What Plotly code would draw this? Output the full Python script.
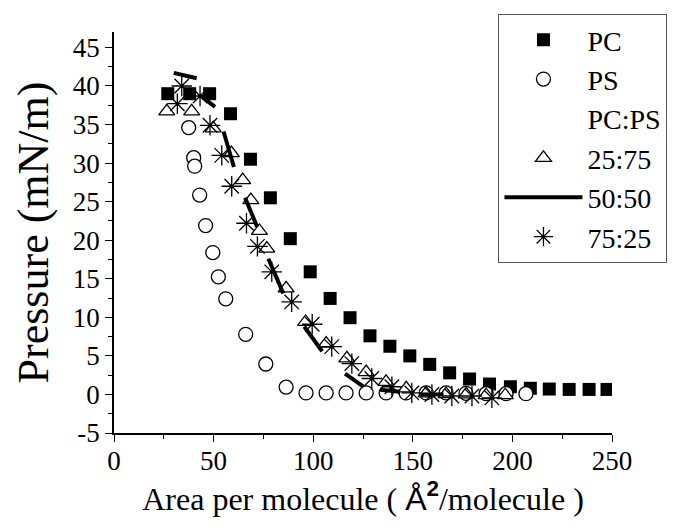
import plotly.graph_objects as go

# ---- data ----
pc_x = [27, 38, 48, 58.5, 68.5, 78.5, 88.5, 98.5, 108.5, 118.5, 128.5, 138.5, 148.5,
        158.5, 168.5, 178.5, 188.5, 199, 209, 218.5, 228.5, 238.5, 247.5]
pc_y = [39.0, 39.0, 39.0, 36.4, 30.5, 25.5, 20.2, 15.9, 12.45, 9.95, 7.6, 6.25, 5.0,
        3.9, 2.8, 2.0, 1.35, 1.0, 0.8, 0.7, 0.65, 0.65, 0.65]

ps_x = [37.5, 40, 40.5, 43, 46, 49.6, 52.4, 56.1, 66.1, 76.2, 86.4, 96.4, 106.5, 116.5,
        126.6, 136.6, 146.6, 156.7, 166.7, 176.7, 186.8, 196.8, 206.8]
ps_y = [34.6, 30.7, 29.6, 25.85, 21.9, 18.4, 15.25, 12.4, 7.8, 3.95, 0.95, 0.2, 0.2, 0.2,
        0.2, 0.2, 0.2, 0.2, 0.2, 0.15, 0.1, 0.1, 0.1]

r25_x = [26.5, 39, 49.8, 58.9, 64.6, 68.7, 73.0, 76.7, 86.4, 96.2, 106.5, 116.9, 126.6,
         136.6, 146.7, 156.7, 166.7, 176.8, 186.8, 196.4]
r25_y = [36.7, 36.7, 34.5, 31.3, 27.8, 25.2, 21.2, 18.9, 13.75, 9.4, 6.6, 4.67, 2.9,
         1.63, 0.78, 0.13, 0.05, 0.0, -0.1, -0.1]

# 50:50 is drawn as a thick broken line (visible segments, gaps as None)
r50_x = [30, 41.5, None, 43.2, 50.7, None, 55.0, 60.2, None, 65.8, 71.9, None,
         77.5, 85.0, None, 95.5, 104.5, None, 116.0, 125.2, None, 133.6, 143.6, None,
         153.7, 165.4]
r50_y = [41.7, 41.0, None, 38.8, 37.3, None, 34.1, 29.5, None, 25.5, 21.7, None,
         17.6, 13.1, None, 8.8, 5.6, None, 2.7, 1.0, None, 0.6, 0.35, None,
         0.0, 0.0]

r75_x = [31.8, 34, 43.2, 48.2, 54.1, 59.1, 66.5, 72.0, 79.2, 89.2, 99.5, 109.3, 119.4,
         129.4, 139.5, 149.5, 159.6, 169.6, 179.7, 189.7]
r75_y = [37.7, 40.0, 38.7, 34.9, 31.0, 27.0, 22.2, 19.2, 15.9, 12.0, 9.1, 6.2, 4.0,
         2.07, 1.0, 0.2, 0.0, -0.2, -0.2, -0.45]

x_ticks = [0, 50, 100, 150, 200, 250]
y_ticks = [-5, 0, 5, 10, 15, 20, 25, 30, 35, 40, 45]
y_tick_text = ["-5", "0", "5", "10", "15", "20", "25", "30", "35", "40", "45"]

SERIF = "Liberation Serif"

fig = go.Figure()
fig.add_trace(go.Scatter(x=pc_x, y=pc_y, mode="markers", name="PC",
                         marker=dict(symbol="square", size=13, color="black",
                                     line=dict(width=0))))
fig.add_trace(go.Scatter(x=ps_x, y=ps_y, mode="markers", name="PS",
                         marker=dict(symbol="circle", size=14, color="white",
                                     line=dict(width=1.3, color="black"))))
fig.add_trace(go.Scatter(x=[None], y=[None], mode="markers", name="PC:PS",
                         marker=dict(color="rgba(0,0,0,0)", size=1)))
fig.add_trace(go.Scatter(x=r25_x, y=r25_y, mode="markers", name="25:75",
                         marker=dict(symbol="triangle-up", size=14, color="white",
                                     line=dict(width=1.3, color="black"))))
fig.add_trace(go.Scatter(x=r50_x, y=r50_y, mode="lines", name="50:50",
                         line=dict(color="black", width=4), connectgaps=False))
fig.add_trace(go.Scatter(x=r75_x, y=r75_y, mode="markers", name="75:25",
                         marker=dict(symbol="asterisk-open", size=17, color="black",
                                     line=dict(width=1.3, color="black"))))

axis_common = dict(
    showline=True, linecolor="black", linewidth=1.5, mirror=False,
    ticks="outside", ticklen=7, tickwidth=1.3, tickcolor="black",
    showgrid=False, zeroline=False,
    tickfont=dict(family=SERIF, size=27, color="black"),
)

fig.update_xaxes(range=[0, 250], tickvals=x_ticks, ticklabelstandoff=-4,
                 minor=dict(ticks="outside", ticklen=4, tickwidth=1.2,
                            tickcolor="black", dtick=25, tick0=0, showgrid=False),
                 title=dict(text='Area per molecule ( <span style="font-family:Liberation Sans">Å<sup><b>2</b></sup></span>/molecule )',
                            font=dict(family=SERIF, size=32, color="black"),
                            standoff=12),
                 **axis_common)
fig.update_yaxes(range=[-5, 47], tickvals=y_ticks, ticktext=y_tick_text,
                 minor=dict(ticks="outside", ticklen=4, tickwidth=1.2,
                            tickcolor="black", dtick=2.5, tick0=0, showgrid=False),
                 title=dict(text="Pressure (mN/m)",
                            font=dict(family=SERIF, size=44, color="black"),
                            standoff=10),
                 **axis_common)

# page body has an 8px default margin: compensate so the plot sits where the reference is
fig.update_layout(
    width=681, height=521,
    margin=dict(l=106, r=77, t=24, b=96, autoexpand=False),
    paper_bgcolor="white", plot_bgcolor="white",
    showlegend=True,
    legend=dict(x=0.772, y=1.045, xanchor="left", yanchor="top",
                bgcolor="white", bordercolor="#555555", borderwidth=1,
                font=dict(family=SERIF, size=28, color="black"),
                itemwidth=78, tracegroupgap=0, itemsizing="trace"),
)

fig.write_html("out.html")
